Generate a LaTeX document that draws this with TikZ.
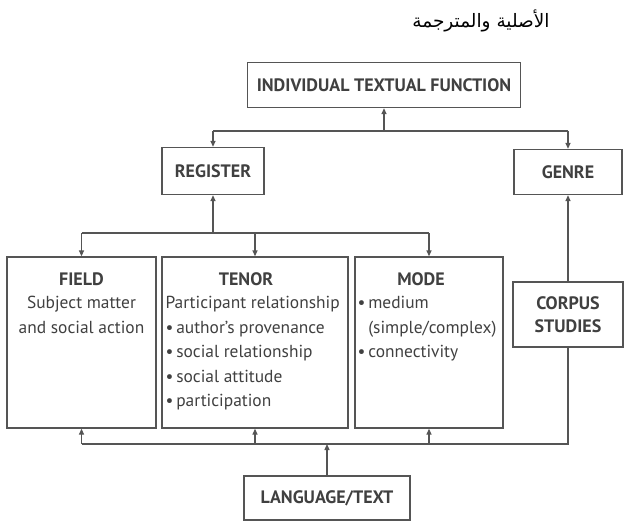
\documentclass[tikz,border=0pt]{standalone}
\usepackage{fontspec}
\setmainfont{PT Sans}
\newfontfamily\arabicfont[Script=Arabic]{DejaVu Sans}
\TeXXeTstate=1
\usetikzlibrary{arrows.meta,positioning}
\definecolor{ln}{HTML}{555555}
\definecolor{tx}{HTML}{404040}

\begin{document}
\begin{tikzpicture}[x=1pt,y=-1pt,
  box/.style={draw=ln,line width=1.3pt,inner sep=0pt,text=tx,align=center,
    font=\bfseries\fontsize{18}{23}\selectfont},
  txt/.style={inner sep=0pt,text=tx,font=\fontsize{17.4}{24.5}\selectfont},
  hd/.style={txt,font=\bfseries\fontsize{18}{24.5}\selectfont},
  arr/.style={draw=ln,line width=1.3pt,-{Triangle[length=6pt,width=5pt]}},
  bus/.style={draw=ln,line width=1.3pt}]
  \useasboundingbox (0,0) rectangle (624,524);

  \node[anchor=center,font=\arabicfont\fontsize{18.5}{20}\selectfont] (title) at (481,21) {\beginR الأصلية والمترجمة\endR};

  \node[box,minimum width=273,minimum height=45] (itf) at (384,85) {INDIVIDUAL TEXTUAL FUNCTION};
  \node[box,minimum width=102,minimum height=47] (reg) at (213,171) {REGISTER};
  \node[box,minimum width=108,minimum height=45] (genre) at (568,172) {GENRE};
  \node[box,minimum width=149,minimum height=171] (field) at (81.5,342.5) {};
  \node[box,minimum width=186,minimum height=171] (tenor) at (255,342.5) {};
  \node[box,minimum width=148,minimum height=171] (mode) at (429,342.5) {};
  \node[box,minimum width=110,minimum height=65] (corpus) at (568,314.5) {CORPUS\\STUDIES};
  \node[box,minimum width=166,minimum height=44] (lang) at (327,498) {LANGUAGE/TEXT};

  % texts in the three boxes
  \node[hd,anchor=north] (fieldh) at ([yshift=-16pt]field.north) {FIELD};
  \node[txt,anchor=north,align=center] (fieldt) at ([yshift=-40pt]field.north)
    {Subject matter\\and social action};
  \node[hd,anchor=north] (tenorh) at ([xshift=-9pt,yshift=-16pt]tenor.north) {TENOR};
  \node[txt,anchor=north west,align=left] (tenort) at ([xshift=4pt,yshift=-40pt]tenor.north west)
    {Participant relationship\\\textbullet\,author’s provenance\\\textbullet\,social relationship\\\textbullet\,social attitude\\\textbullet\,participation};
  \node[hd,anchor=north] (modeh) at ([xshift=-8pt,yshift=-16pt]mode.north) {MODE};
  \node[txt,anchor=north west,align=left] (modet) at ([xshift=3pt,yshift=-40pt]mode.north west)
    {\textbullet\,medium\\\phantom{\textbullet\,}(simple/complex)\\\textbullet\,connectivity};

  % upper connectors
  \coordinate (b1) at (384,131);
  \draw[arr] (b1) -- (itf.south);
  \draw[bus] (b1 -| reg) -- (b1 -| genre);
  \draw[arr] (b1 -| reg) -- (reg.north);
  \draw[arr] (b1 -| genre) -- (genre.north);

  \coordinate (b2) at (213,233);
  \draw[arr] (b2) -- (reg.south);
  \draw[bus] (b2 -| field) -- (b2 -| mode);
  \foreach \n in {field,tenor,mode}
    \draw[arr] (b2 -| \n) -- (\n.north);
  \draw[arr] (corpus.north) -- (genre.south);

  % lower connectors
  \coordinate (b3) at (327,444);
  \draw[arr] (lang.north) -- (b3);
  \draw[bus] (b3 -| field) -- (b3 -| corpus) -- (corpus.south);
  \foreach \n in {field,tenor,mode}
    \draw[arr] (b3 -| \n) -- (\n.south);
\end{tikzpicture}
\end{document}
